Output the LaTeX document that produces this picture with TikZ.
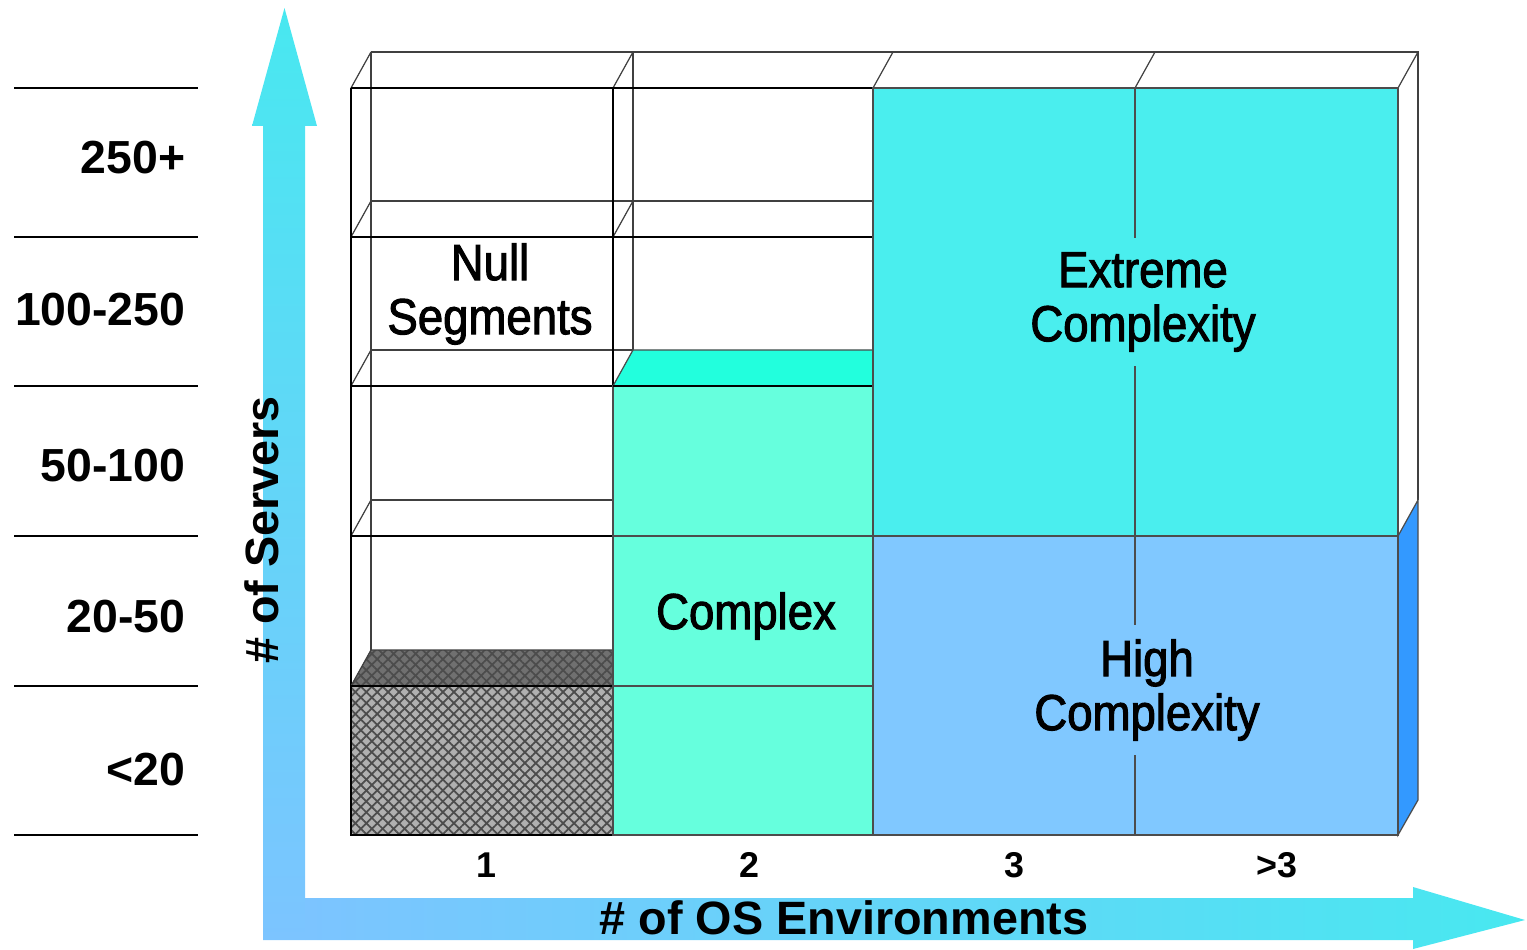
\documentclass[tikz,border=0pt]{standalone}
\usepackage{fontspec}
\setmainfont{Liberation Sans}
\newfontfamily\narrowfont[FakeStretch=0.9,FakeBold=2]{Liberation Sans}
\usepackage{tikz}
\usetikzlibrary{patterns.meta}
\definecolor{extremecol}{HTML}{4AEEEE}
\definecolor{highcol}{HTML}{80C8FF}
\definecolor{complexcol}{HTML}{66FFDD}
\definecolor{complextop}{HTML}{22FFDD}
\definecolor{sidecol}{HTML}{3399FF}
\definecolor{axiscyan}{HTML}{48E8F0}
\definecolor{axisblue}{HTML}{7CC4FF}
\definecolor{hatchfront}{HTML}{B0B0B0}
\definecolor{hatchtop}{HTML}{707070}

\begin{document}
\begin{tikzpicture}[
  rowlab/.style={font=\fontsize{13.2}{15}\selectfont\bfseries,anchor=east,inner sep=0pt},
  collab/.style={font=\fontsize{10.2}{12}\selectfont\bfseries,inner sep=0pt},
  axislab/.style={font=\fontsize{13.3}{15}\selectfont\bfseries,inner sep=0pt},
  seglab/.style={font=\narrowfont\fontsize{14.4}{15.4}\selectfont,align=center,inner sep=4pt},
  frontln/.style={black,line width=0.6pt},
  backln/.style={black!75,line width=0.35pt},
  blockln/.style={draw=black!70,line width=0.35pt},
  hatch/.style={pattern={Lines[angle=#1,distance=2.2pt,line width=0.5pt]},pattern color=black!70},
]
\useasboundingbox (0,0) rectangle (15.27,9.49);

% axes
\shade[top color=axiscyan,bottom color=axisblue]
  (2.63,0.09) -- (2.63,8.23) -- (2.52,8.23) -- (2.845,9.41) -- (3.17,8.23)
  -- (3.05,8.23) -- (3.05,0.09) -- cycle;
\shade[left color=axisblue,right color=axiscyan]
  (3.05,0.09) -- (3.05,0.51) -- (14.13,0.51) -- (14.13,0.62) -- (15.25,0.29)
  -- (14.13,0.0) -- (14.13,0.09) -- cycle;

% server ranges
\foreach \y in {8.61,7.12,5.63,4.13,2.63,1.14} { \draw[line width=0.45pt] (0.14,\y) -- (1.98,\y); }
\foreach \y/\t/\n in {7.91/250+/a,6.39/100-250/b,4.83/50-100/c,3.32/20-50/d,1.79/<20/e}
  { \node[rowlab] (srv\n) at (1.86,\y) {\t}; }

% wireframe of the empty cells
\foreach \y in {8.97,7.48,5.99,4.49} { \draw[backln] (3.71,\y) -- (6.33,\y); }
\foreach \y in {8.97,7.48} { \draw[backln] (6.33,\y) -- (8.93,\y); }
\draw[backln] (8.93,8.97) -- (14.18,8.97) -- (14.18,4.49);
\draw[backln] (3.71,2.99) -- (3.71,8.97);
\draw[backln] (6.33,5.99) -- (6.33,8.97);
\foreach \x/\y in {3.51/8.61,3.51/7.12,3.51/5.63,3.51/4.13,6.13/8.61,6.13/7.12,
                   8.73/8.61,11.35/8.61,13.98/8.61}
  { \draw[backln] (\x,\y) -- ++(0.2,0.36); }
\foreach \y in {8.61,7.12,5.63,4.13} { \draw[frontln] (3.51,\y) -- (6.13,\y); }
\foreach \y in {8.61,7.12} { \draw[frontln] (6.13,\y) -- (8.73,\y); }
\draw[frontln] (3.51,1.14) -- (3.51,8.61);
\draw[frontln] (6.13,5.63) -- (6.13,8.61);

% null cell
\fill[hatchtop] (3.51,2.63) -- (6.13,2.63) -- (6.33,2.99) -- (3.71,2.99) -- cycle;
\fill[hatch=45] (3.51,2.63) -- (6.13,2.63) -- (6.33,2.99) -- (3.71,2.99) -- cycle;
\fill[hatch=-45] (3.51,2.63) -- (6.13,2.63) -- (6.33,2.99) -- (3.71,2.99) -- cycle;
\draw[backln] (3.51,2.63) -- (3.71,2.99) -- (6.33,2.99);
\fill[hatchfront] (3.51,1.14) rectangle (6.13,2.63);
\fill[hatch=45] (3.51,1.14) rectangle (6.13,2.63);
\fill[hatch=-45] (3.51,1.14) rectangle (6.13,2.63);
\draw[frontln] (3.51,1.14) rectangle (6.13,2.63);

% complex column
\filldraw[fill=complextop,blockln] (6.13,5.63) -- (6.33,5.99) -- (8.93,5.99) -- (8.73,5.63) -- cycle;
\filldraw[fill=complexcol,blockln] (6.13,1.14) rectangle (8.73,5.63);
\draw[blockln] (6.13,2.63) -- (8.73,2.63);
\draw[blockln] (6.13,4.13) -- (8.73,4.13);
\draw[frontln] (6.13,5.63) -- (8.73,5.63);

% high and extreme complexity
\filldraw[fill=sidecol,blockln] (13.98,1.14) -- (14.18,1.49) -- (14.18,4.49) -- (13.98,4.13) -- cycle;
\filldraw[fill=extremecol,blockln] (8.73,4.13) rectangle (13.98,8.61);
\filldraw[fill=highcol,blockln] (8.73,1.14) rectangle (13.98,4.13);
\draw[blockln] (11.35,1.14) -- (11.35,8.61);

\node[seglab] (nullseg) at (4.90,6.55) {Null\\Segments};
\node[seglab] (cplx) at (7.46,3.33) {Complex};
\node[seglab,fill=extremecol] (extreme) at (11.43,6.47) {Extreme\\Complexity};
\node[seglab,fill=highcol] (high) at (11.47,2.59) {High\\Complexity};

% OS counts
\foreach \x/\t/\n in {4.86/1/a,7.49/2/b,10.14/3/c,12.77/>3/d}
  { \node[collab] (os\n) at (\x,0.84) {\t}; }

\node[axislab,rotate=90] (ylab) at (2.62,4.19) {\# of Servers};
\node[axislab] (xlab) at (8.44,0.31) {\# of OS Environments};
\end{tikzpicture}
\end{document}
